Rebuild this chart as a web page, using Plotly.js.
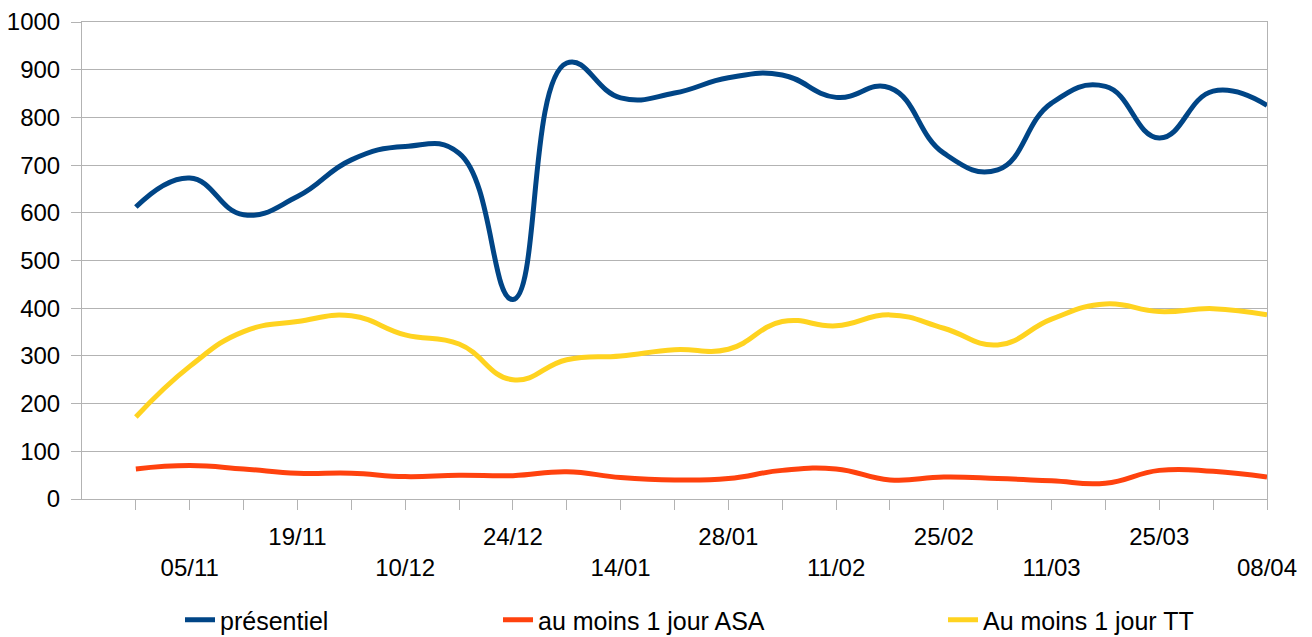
<!DOCTYPE html>
<html>
<head>
<meta charset="utf-8">
<script src="https://cdn.plot.ly/plotly-3.0.1.min.js"></script>
<style>
  html, body { margin: 0; padding: 0; background: #ffffff; }
  #chart { width: 1312px; height: 637px; }
</style>
</head>
<body>
<div id="chart"></div>
<script>
// Categories (weekly dates; only every second one is labelled on the chart)
const dates = ["29/10","05/11","12/11","19/11","26/11","10/12","17/12","24/12","07/01","14/01","21/01",
               "28/01","04/02","11/02","18/02","25/02","04/03","11/03","18/03","25/03","01/04","08/04"];
// Tick labels that are visible on the chart
const shownLabels = ["05/11","19/11","10/12","24/12","14/01","28/01","11/02","25/02","11/03","25/03","08/04"];

// Series
const presentiel = [612, 673, 596, 634, 711, 739, 725, 418, 914, 841, 851,
                    883, 889, 842, 862, 725, 690, 830, 865, 757, 855, 825];
const asa        = [63, 70, 63, 54, 54, 47, 50, 49, 57, 45, 40,
                    43, 60, 63, 40, 46, 43, 38, 33, 60, 58, 46];
const tt         = [172, 278, 351, 372, 384, 344, 325, 250, 292, 300, 313,
                    314, 372, 363, 386, 358, 323, 377, 409, 393, 399, 386];

const seriesNames = ["présentiel", "au moins 1 jour ASA", "Au moins 1 jour TT"];
const seriesColors = ["#004586", "#ff420e", "#ffd320"];

const ticktext = dates.map(d => {
  const k = shownLabels.indexOf(d);
  if (k < 0) return "";
  return (k % 2 === 0) ? "<br>" + d : d;
});

const font = "Liberation Sans, Arial, sans-serif";
const seriesData = [presentiel, asa, tt];
const legendIds = ["legend", "legend2", "legend3"];

const traces = seriesData.map((ys, i) => ({
  type: "scatter",
  mode: "lines",
  x: dates,
  y: ys,
  name: seriesNames[i],
  legend: legendIds[i],
  line: { color: seriesColors[i], width: 5, shape: "spline", smoothing: 1.3 },
  hoverinfo: "x+y+name"
}));

function legendAt(px) {
  return {
    xref: "container", yref: "container",
    x: px / 1312, y: (637 - 620) / 637,
    xanchor: "left", yanchor: "middle",
    orientation: "h",
    bgcolor: "rgba(0,0,0,0)",
    borderwidth: 0,
    itemwidth: 30,
    font: { family: font, size: 25, color: "#000000" }
  };
}

const layout = {
  width: 1312,
  height: 637,
  paper_bgcolor: "#ffffff",
  plot_bgcolor: "#ffffff",
  margin: { l: 82, r: 45, t: 22, b: 138 },
  showlegend: true,
  legend: legendAt(180),
  legend2: legendAt(498),
  legend3: legendAt(943),
  xaxis: {
    type: "category",
    range: [-1, dates.length - 1],
    tickmode: "array",
    tickvals: dates,
    ticktext: ticktext,
    ticks: "outside",
    ticklen: 10,
    tickcolor: "#b3b3b3",
    tickwidth: 1,
    ticklabelstandoff: 6,
    showgrid: false,
    showline: true,
    linecolor: "#b3b3b3",
    linewidth: 1,
    mirror: true,
    zeroline: false,
    tickangle: 0,
    tickfont: { family: font, size: 24, color: "#000000" }
  },
  yaxis: {
    range: [0, 1000],
    tickmode: "linear",
    tick0: 0,
    dtick: 100,
    ticks: "outside",
    ticklen: 10,
    tickcolor: "#b3b3b3",
    tickwidth: 1,
    ticklabelstandoff: 6,
    showgrid: true,
    gridcolor: "#b3b3b3",
    gridwidth: 1,
    showline: true,
    linecolor: "#b3b3b3",
    linewidth: 1,
    mirror: true,
    zeroline: false,
    tickfont: { family: font, size: 24, color: "#000000" }
  }
};

Plotly.newPlot("chart", traces, layout, { displayModeBar: false });
</script>
</body>
</html>
